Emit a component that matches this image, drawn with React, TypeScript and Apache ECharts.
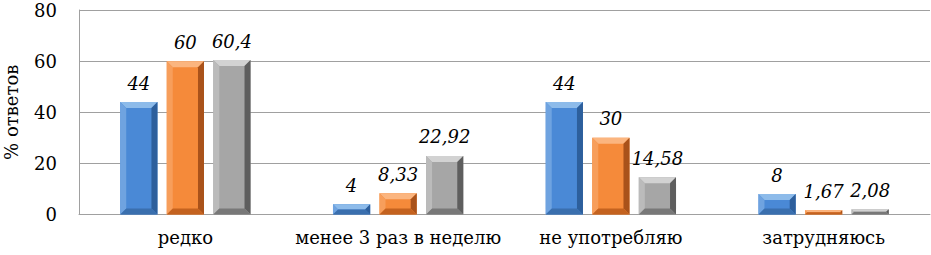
import React, { useEffect, useRef } from "react";
import * as echarts from "echarts";

const categories = ["редко", "менее 3 раз в неделю", "не употребляю", "затрудняюсь"];
const seriesA = [44, 4, 44, 8];
const seriesB = [60, 8.33, 30, 1.67];
const seriesC = [60.4, 22.92, 14.58, 2.08];
const yTicks = { min: 0, max: 80, interval: 20 };

const palettes = [
  { face: "#4A89D6", top: "#8DBBEA", left: "#6FA3E0", right: "#2D5F9C", bottom: "#3A6FAE" },
  { face: "#F58A3A", top: "#FBB57F", left: "#F79E5B", right: "#A9521A", bottom: "#C4621F" },
  { face: "#A6A6A6", top: "#D2D2D2", left: "#BBBBBB", right: "#5E5E5E", bottom: "#787878" },
];

const FONT = "DejaVu Serif";

function fmt(v: number) {
  return String(v).replace(".", ",");
}

function makeRender(idx: number) {
  const pal = palettes[idx];
  return (params: any, api: any) => {
    const cat = api.value(0);
    const val = api.value(1);
    const base = api.coord([cat, 0]);
    const top = api.coord([cat, val]);
    const band = api.size([1, 0])[0];
    const bw = band * 0.175;
    const gap = bw * 0.25;
    const total = 3 * bw + 2 * gap;
    const x0 = base[0] - total / 2 + idx * (bw + gap);
    const x1 = x0 + bw;
    const y0 = top[1];
    const y1 = base[1];
    const h = y1 - y0;
    const b = Math.max(0.5, Math.min(6, bw / 2, h / 2));
    return {
      type: "group",
      children: [
        { type: "rect", shape: { x: x0, y: y0, width: bw, height: h }, style: { fill: pal.face } },
        { type: "polygon", shape: { points: [[x0, y0], [x1, y0], [x1 - b, y0 + b], [x0 + b, y0 + b]] }, style: { fill: pal.top } },
        { type: "polygon", shape: { points: [[x0, y0], [x0 + b, y0 + b], [x0 + b, y1 - b], [x0, y1]] }, style: { fill: pal.left } },
        { type: "polygon", shape: { points: [[x1, y0], [x1, y1], [x1 - b, y1 - b], [x1 - b, y0 + b]] }, style: { fill: pal.right } },
        { type: "polygon", shape: { points: [[x0, y1], [x0 + b, y1 - b], [x1 - b, y1 - b], [x1, y1]] }, style: { fill: pal.bottom } },
        {
          type: "text",
          style: {
            x: (x0 + x1) / 2,
            y: y0 - 10,
            text: fmt(val),
            align: "center",
            verticalAlign: "bottom",
            fontFamily: FONT,
            fontStyle: "italic",
            fontSize: 18,
            fill: "#000",
          },
        },
      ],
    };
  };
}

export default function App() {
  const ref = useRef<HTMLDivElement>(null);
  useEffect(() => {
    document.body.style.margin = "0";
    const chart = echarts.init(ref.current!, null, { renderer: "svg" });
    const all = [seriesA, seriesB, seriesC];
    chart.setOption({
      animation: false,
      backgroundColor: "#fff",
      textStyle: { fontFamily: FONT },
      grid: { left: 79, right: 1, top: 10, bottom: 40.5, containLabel: false, outerBoundsMode: "none" },
      xAxis: {
        type: "category",
        data: categories,
        axisTick: { show: false },
        axisLine: { lineStyle: { color: "#A0A0A0", width: 1 } },
        axisLabel: { color: "#000", fontFamily: FONT, fontSize: 18, margin: 14, interval: 0 },
      },
      yAxis: {
        type: "value",
        min: yTicks.min,
        max: yTicks.max,
        interval: yTicks.interval,
        name: "% ответов",
        nameLocation: "middle",
        nameGap: 59,
        nameTextStyle: { color: "#000", fontFamily: FONT, fontSize: 18 },
        axisLine: { show: true, lineStyle: { color: "#A0A0A0", width: 1 } },
        axisTick: { show: false },
        splitLine: { lineStyle: { color: "#A0A0A0", width: 1 } },
        axisLabel: { color: "#000", fontFamily: FONT, fontSize: 18, margin: 22 },
      },
      series: all.map((arr, i) => ({
        type: "custom",
        renderItem: makeRender(i),
        data: arr.map((v, j) => [j, v]),
        encode: { x: 0, y: 1 },
        clip: false,
      })),
    });
    return () => chart.dispose();
  }, []);
  return <div ref={ref} style={{ position: "absolute", left: 0, top: 0, width: 931, height: 255 }} />;
}
